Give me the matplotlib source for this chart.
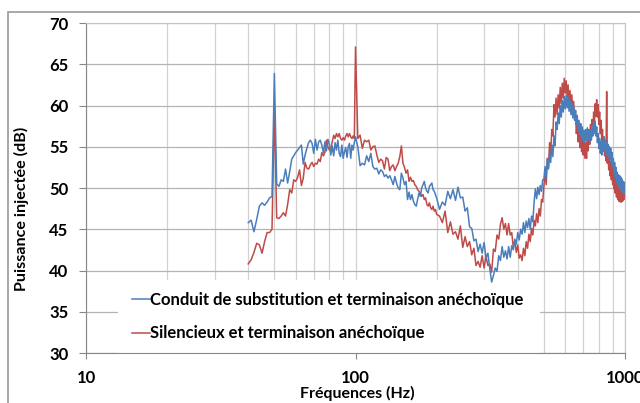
import numpy as np
import matplotlib
matplotlib.use("Agg")
import matplotlib.pyplot as plt
from matplotlib.patches import Rectangle
from matplotlib.ticker import FixedLocator, NullFormatter

plt.rcParams['font.family'] = ['Lato', 'DejaVu Sans']
plt.rcParams['font.weight'] = 'bold'

# frequency grid (Hz): 1 Hz up to 100, 2 Hz up to 200, 5 Hz above
freq_lo = np.arange(40, 101)
freq_mid = np.arange(102, 201, 2)
freq_hi = np.arange(205, 1001, 5)
freqs = np.concatenate([freq_lo, freq_mid, freq_hi])

label_blue = "Conduit de substitution et terminaison anéchoïque"
label_red = "Silencieux et terminaison anéchoïque"

blue_lo = [45.8, 46.1, 44.7, 46.2, 47.8, 48.2, 47.9, 48.3, 48.8, 49.0,
           63.9, 50.5, 50.2, 51.0, 50.8, 52.3, 50.6, 52.0, 53.5, 53.9,
           54.3, 54.6, 54.9, 55.2, 52.9, 54.0, 54.8, 55.5, 55.8, 55.4,
           54.2, 55.9, 54.6, 55.6, 55.8, 55.2, 54.3, 55.6, 54.5, 55.9,
           55.3, 54.0, 55.1, 53.9, 55.5, 54.6, 55.8, 54.2, 53.8, 55.2,
           53.6, 54.4, 54.9, 53.7, 55.0, 55.4, 53.6, 55.2, 54.6, 55.5,
           56.2]
blue_mid = [55.0, 52.7, 53.0, 52.8, 53.9, 53.2, 54.2, 52.6, 52.3, 52.4,
            51.7, 52.2, 52.0, 51.4, 51.6, 51.2, 51.5, 51.0, 50.4, 51.4,
            50.6, 50.0, 49.8, 51.8, 51.2, 50.4, 50.8, 48.6, 49.5, 48.6,
            49.2, 48.4, 48.0, 47.8, 48.6, 49.4, 49.0, 50.0, 50.4, 50.8,
            50.0, 49.6, 49.4, 50.2, 50.4, 50.6, 49.8, 49.6, 49.2, 48.8]
blue_hi = [47.4, 48.3, 47.9, 49.6, 48.7, 49.8, 48.5, 50.1, 48.8, 48.9,
           47.2, 47.6, 45.3, 45.1, 43.6, 43.8, 42.3, 43.2, 42.1, 43.4,
           41.5, 42.1, 40.2, 38.6, 39.4, 40.3, 39.9, 41.8, 41.2, 42.9,
           41.6, 42.4, 41.4, 42.9, 41.6, 43.0, 42.5, 43.8, 43.2, 44.6,
           43.7, 45.0, 44.4, 45.8, 44.6, 46.0, 45.2, 46.3, 45.0, 46.6,
           45.9, 48.3, 49.9, 48.7, 50.1, 49.2, 50.3, 49.6, 51.0, 51.0,
           52.6, 51.4, 53.5, 52.3, 54.2, 53.1, 55.2, 53.8, 56.3, 55.1,
           58.0, 57.1, 59.1, 57.8, 60.0, 58.6, 60.6, 59.2, 61.1, 59.6,
           61.2, 59.7, 61.0, 59.3, 60.6, 58.9, 60.3, 58.5, 59.9, 58.2,
           59.4, 57.6, 58.8, 56.9, 58.2, 56.5, 57.8, 56.0, 57.4, 55.7,
           57.0, 55.5, 57.1, 55.8, 57.3, 55.9, 57.1, 55.4, 57.0, 55.8,
           57.5, 56.3, 58.0, 56.6, 58.1, 56.3, 57.4, 55.5, 56.6, 54.8,
           56.0, 54.2, 55.6, 54.0, 55.8, 54.5, 56.2, 54.6, 55.8, 54.1,
           55.5, 53.9, 55.3, 53.7, 55.0, 53.5, 54.8, 53.0, 54.3, 52.6,
           53.6, 51.8, 53.1, 51.3, 52.5, 50.7, 51.9, 50.3, 51.6, 50.1,
           51.5, 49.9, 51.3, 49.7, 51.1, 49.5, 50.8, 49.3, 50.6, 49.5]

red_lo = [40.8, 41.3, 42.2, 43.3, 43.1, 42.1, 43.5, 44.6, 44.6, 45.0,
          59.8, 46.4, 46.3, 46.6, 47.0, 46.6, 48.0, 49.8, 49.4, 51.0,
          50.8, 51.3, 52.2, 50.3, 51.2, 53.1, 52.4, 52.3, 52.8, 53.1,
          52.6, 53.0, 52.9, 53.5, 53.2, 54.3, 53.9, 54.3, 55.8, 55.0,
          54.6, 54.8, 55.6, 56.4, 56.0, 56.6, 56.2, 56.6, 56.0, 55.8,
          56.1, 55.8, 56.3, 56.6, 56.2, 56.6, 56.2, 56.0, 56.3, 56.0,
          67.1]
red_mid = [56.0, 56.4, 54.8, 55.8, 55.6, 55.8, 54.6, 55.0, 55.1, 54.0,
           53.1, 53.5, 53.3, 52.3, 53.7, 53.5, 52.1, 52.6, 52.8, 52.1,
           52.6, 53.0, 53.8, 55.1, 53.0, 52.5, 51.8, 52.2, 50.8, 51.3,
           50.8, 50.9, 50.4, 50.2, 49.8, 49.6, 49.4, 49.0, 49.2, 48.6,
           48.8, 48.0, 47.8, 48.2, 47.6, 47.4, 47.8, 47.2, 47.4, 46.8]
red_hi = [46.6, 45.8, 47.2, 44.6, 45.9, 44.4, 44.7, 43.8, 45.4, 42.8,
          44.1, 42.9, 43.5, 41.9, 42.7, 40.6, 41.1, 40.4, 41.8, 40.3,
          41.7, 40.6, 40.8, 39.8, 42.6, 42.3, 44.3, 43.8, 45.6, 46.4,
          45.0, 45.7, 44.3, 45.7, 44.3, 44.6, 42.8, 43.6, 42.2, 43.1,
          41.5, 41.9, 41.2, 42.7, 41.8, 43.5, 42.7, 44.4, 43.5, 45.1,
          44.3, 46.1, 45.4, 46.9, 45.8, 47.5, 46.6, 48.6, 48.3, 50.2,
          51.8, 50.4, 53.6, 52.4, 55.5, 54.2, 57.1, 56.3, 60.1, 58.6,
          60.9, 58.9, 61.3, 59.7, 62.2, 60.2, 62.7, 60.9, 63.3, 61.5,
          63.0, 61.0, 62.5, 60.2, 61.8, 59.5, 61.3, 59.0, 60.5, 58.3,
          59.4, 56.6, 58.1, 55.6, 57.2, 54.9, 56.6, 54.4, 56.2, 54.0,
          55.8, 53.6, 55.5, 53.6, 56.0, 54.5, 56.9, 55.3, 57.7, 55.9,
          58.3, 56.8, 59.2, 57.7, 60.2, 58.7, 60.7, 58.6, 60.1, 57.7,
          59.2, 56.6, 58.2, 55.7, 57.1, 54.5, 56.2, 53.9, 55.6, 53.3,
          61.7, 53.0, 54.6, 52.2, 53.8, 51.5, 53.2, 51.0, 52.7, 50.4,
          52.1, 49.9, 51.6, 49.4, 51.1, 48.9, 50.7, 48.6, 50.5, 48.4,
          50.4, 48.3, 50.3, 48.3, 50.4, 48.4, 50.6, 48.6, 50.7, 48.8]

blue = np.array(blue_lo + blue_mid + blue_hi)
red = np.array(red_lo + red_mid + red_hi)

fig = plt.figure(figsize=(6.4, 4.03), dpi=100)
ax = fig.add_axes([86/640, 1 - 353/403, 539/640, 330/403])

# chart outer border (partly cut by the image edges)
fig.patches.append(Rectangle((8/640, -0.5), 2, 1.5 - 12/403, transform=fig.transFigure,
                             fill=False, edgecolor='#9a9a9a', lw=1.2))

ax.set_xscale('log')
ax.set_xlim(10, 1000)
ax.set_ylim(30, 70)
ax.set_axisbelow(True)

ax.xaxis.set_major_locator(FixedLocator([10, 100, 1000]))
ax.xaxis.set_minor_locator(FixedLocator([20, 30, 40, 50, 60, 70, 80, 90,
                                         200, 300, 400, 500, 600, 700, 800, 900]))
ax.xaxis.set_minor_formatter(NullFormatter())
ax.set_xticklabels(['10', '100', '1000'])
ax.set_yticks(np.arange(30, 71, 5))

ax.grid(which='major', axis='y', color='#b4b4b4', lw=0.9)
ax.grid(which='both', axis='x', color='#d2d2d2', lw=0.9)

for s in ['left', 'bottom']:
    ax.spines[s].set_color('#868686')
for s in ['top', 'right']:
    ax.spines[s].set_color('#c4c4c4')

ax.tick_params(axis='y', which='major', length=5, color='#868686', pad=7.5, labelsize=12)
ax.tick_params(axis='x', which='major', length=4, color='#868686', pad=8, labelsize=12)
ax.tick_params(axis='x', which='minor', length=0)

# white box behind legend
ax.add_patch(Rectangle((0.059, 0.0), 0.783, 0.221, transform=ax.transAxes,
                       facecolor='white', edgecolor='none', zorder=1))

ax.plot(freqs, blue, color='#4a7ebb', lw=1.1, label=label_blue, zorder=3)
ax.plot(freqs, red, color='#be4b48', lw=1.1, label=label_red, zorder=2)

ax.legend(loc='upper left', bbox_to_anchor=(0.085, 0.185), frameon=False,
          borderaxespad=0, borderpad=0, handlelength=1.1, handletextpad=0.0,
          labelspacing=1.05, prop={'weight': 'bold', 'size': 12})

fig.text(21/640, 1 - 209/403, 'Puissance injectée (dB)', rotation=90,
         ha='center', va='center', fontsize=11.6, fontweight='bold')
fig.text(357/640, 1 - 386/403, 'Fréquences (Hz)', ha='center', va='top',
         fontsize=11.5, fontweight='bold')

fig.savefig('out.png', dpi=100)
